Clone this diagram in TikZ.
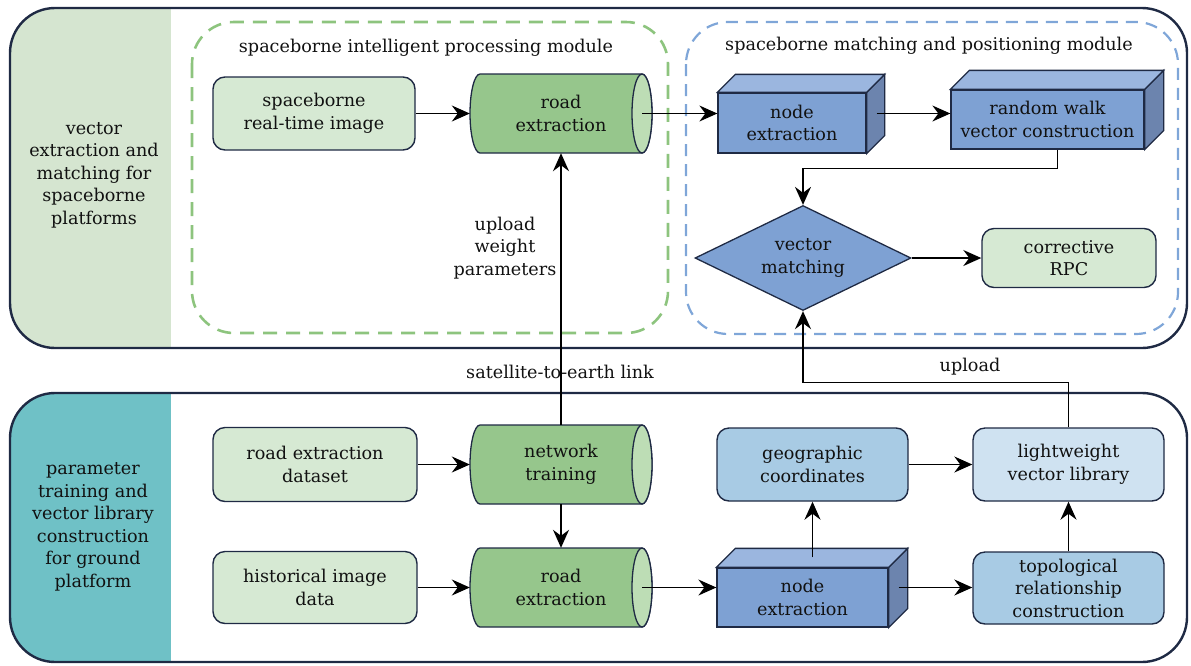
\documentclass[tikz,border=0pt]{standalone}
\usepackage{fontspec}
\setmainfont{DejaVu Serif}
\usepackage{tikz}
\usetikzlibrary{arrows.meta,shapes.geometric,calc}
\definecolor{navy}{HTML}{1F2A44}
\definecolor{txtc}{HTML}{111111}
\definecolor{panelg}{HTML}{D5E5D0}
\definecolor{panelt}{HTML}{6FC1C6}
\definecolor{lgreen}{HTML}{D6E9D3}
\definecolor{cylbody}{HTML}{96C68C}
\definecolor{cylcap}{HTML}{BDDDB5}
\definecolor{cubefr}{HTML}{7EA1D3}
\definecolor{cubetp}{HTML}{9BB6DF}
\definecolor{cubesd}{HTML}{6C84AE}
\definecolor{mblue}{HTML}{A8CBE4}
\definecolor{pblue}{HTML}{CFE2F1}
\definecolor{dgreen}{HTML}{8DC47E}
\definecolor{dblue}{HTML}{7FA6D8}
\newcommand\mkcyl[4]{%
  \path[draw=navy,line width=1.3pt,fill=cylbody] (#2+81,#3-39.5) -- (#2-81,#3-39.5)
    arc[start angle=90,end angle=270,x radius=10pt,y radius=39.5pt] -- (#2+81,#3+39.5)
    arc[start angle=-90,end angle=90,x radius=10pt,y radius=39.5pt] -- cycle;
  \path[draw=navy,line width=1.3pt,fill=cylcap] (#2+81,#3) ellipse[x radius=10pt,y radius=39.5pt];
  \node[txtnode,minimum width=182pt,minimum height=79pt] (#1) at (#2,#3) {#4};
}
\newcommand\mkcube[7]{%
  \node[cubef,minimum width=#4pt,minimum height=#5pt] (#1) at (#2,#3) {#7};
  \path[cubeside] (#1.north east) -- ++(#6,-#6) -- ($(#1.south east)+(#6,-#6)$) -- (#1.south east) -- cycle;
  \path[cubetop] (#1.north west) -- ++(#6,-#6) -- ($(#1.north east)+(#6,-#6)$) -- (#1.north east) -- cycle;
}
\begin{document}
\begin{tikzpicture}[x=1pt,y=-1pt,
  font=\fontsize{17.6}{22.5}\selectfont, text=txtc,
  txtnode/.style={align=center,inner sep=0pt},
  box/.style={draw=navy,line width=1.4pt,rounded corners=12pt,align=center,inner sep=0pt},
  lgbox/.style={box,fill=lgreen},
  mbbox/.style={box,fill=mblue},
  pbbox/.style={box,fill=pblue},
  cubef/.style={draw=navy,line width=1.3pt,fill=cubefr,align=center,inner sep=0pt},
  cubeside/.style={draw=navy,line width=1.3pt,fill=cubesd},
  cubetop/.style={draw=navy,line width=1.3pt,fill=cubetp},
  outer/.style={draw=navy,line width=2.4pt,rounded corners=45pt},
  dashg/.style={draw=dgreen,line width=2.6pt,dash pattern=on 14pt off 9pt,rounded corners=42pt},
  dashb/.style={draw=dblue,line width=2.2pt,dash pattern=on 12pt off 8pt,rounded corners=42pt},
  arr/.style={-{Stealth[length=18pt,width=16pt,inset=6pt]},line width=1.5pt,draw=black},
]
\useasboundingbox (0,0) rectangle (1191,665);
% outer frames
\begin{scope}
  \clip[rounded corners=45pt] (10,8) rectangle (1187,348);
  \fill[panelg] (10,8) rectangle (171,348);
\end{scope}
\path[outer] (10,8) rectangle (1187,348);
\begin{scope}
  \clip[rounded corners=45pt] (10,393) rectangle (1187,662);
  \fill[panelt] (10,393) rectangle (171,662);
\end{scope}
\path[outer] (10,393) rectangle (1187,662);
\node[txtnode] (ptop) at (94,175) {vector\\extraction and\\matching for\\spaceborne\\platforms};
\node[txtnode] (pbot) at (93,527) {parameter\\training and\\vector library\\construction\\for ground\\platform};
% dashed modules
\path[dashg] (192,22) rectangle (668,333);
\path[dashb] (686,22) rectangle (1178,334);
\node[txtnode] (tg) at (426,48) {spaceborne intelligent processing module};
\node[txtnode] (tb) at (929,46) {spaceborne matching and positioning module};
% top row
\node[lgbox,minimum width=202pt,minimum height=73pt] (sri) at (314,113.5) {spaceborne\\real-time image};
\mkcyl{re1}{561}{113.5}{road\\extraction}
\mkcube{ne1}{792}{123}{148}{60}{18}{node\\extraction}
\mkcube{rw}{1047.5}{119.5}{193}{59}{19}{random walk\\vector construction}
\node[diamond,draw=navy,line width=1.3pt,fill=cubefr,align=center,inner sep=0pt,aspect=2.06,
      minimum width=216pt,minimum height=105pt] (vm) at (803,258) {vector\\matching};
\node[lgbox,minimum width=174pt,minimum height=59pt] (rpc) at (1069,258) {corrective\\RPC};
% bottom
\node[lgbox,minimum width=204pt,minimum height=74pt] (red) at (315,464.5) {road extraction\\dataset};
\node[lgbox,minimum width=204pt,minimum height=72pt] (hid) at (315,587.5) {historical image\\data};
\mkcyl{nt}{561}{464.5}{network\\training}
\mkcyl{re2}{561}{587.5}{road\\extraction}
\mkcube{ne2}{802.5}{597.5}{171}{59}{19}{node\\extraction}
\node[mbbox,minimum width=191pt,minimum height=73pt] (geo) at (812.5,464.5) {geographic\\coordinates};
\node[pbbox,minimum width=191pt,minimum height=73pt] (lw) at (1068.5,464.5) {lightweight\\vector library};
\node[mbbox,minimum width=191pt,minimum height=72pt] (topo) at (1068.5,588) {topological\\relationship\\construction};
% labels
\node[txtnode] (lup) at (505,248) {upload\\weight\\parameters};
\node[txtnode] (lsat) at (560,372) {satellite-to-earth link};
\node[txtnode] (lupl) at (970,367) {upload};
% connectors
\draw[arr] (sri.east) -- (re1.west);
\draw[arr] ($(re1.east)+(-10,0)$) -- (ne1.west |- re1.east);
\draw[arr] ($(ne1.east |- re1.east)+(10,0)$) -- (rw.west |- re1.east);
\draw[arr] ([xshift=10pt]rw.south) -- ++(0,19) -| (vm.north);
\draw[arr] (vm.east) -- (rpc.west);
\draw[arr] (lw.north) -- ++(0,-45) -| (vm.south);
\draw[arr] (nt.north) -- (re1.south);
\draw[arr] (red.east) -- (nt.west);
\draw[arr] (hid.east) -- (re2.west);
\draw[arr] (nt.south) -- (re2.north);
\draw[arr] ($(re2.east)+(-10,0)$) -- (ne2.west |- re2.east);
\draw[arr] ($(ne2.east |- re2.east)+(10,0)$) -- (topo.west |- re2.east);
\draw[arr] ([xshift=10pt,yshift=10pt]ne2.north) -- (geo.south);
\draw[arr] (geo.east) -- (lw.west);
\draw[arr] (topo.north) -- (lw.south);
\end{tikzpicture}
\end{document}
